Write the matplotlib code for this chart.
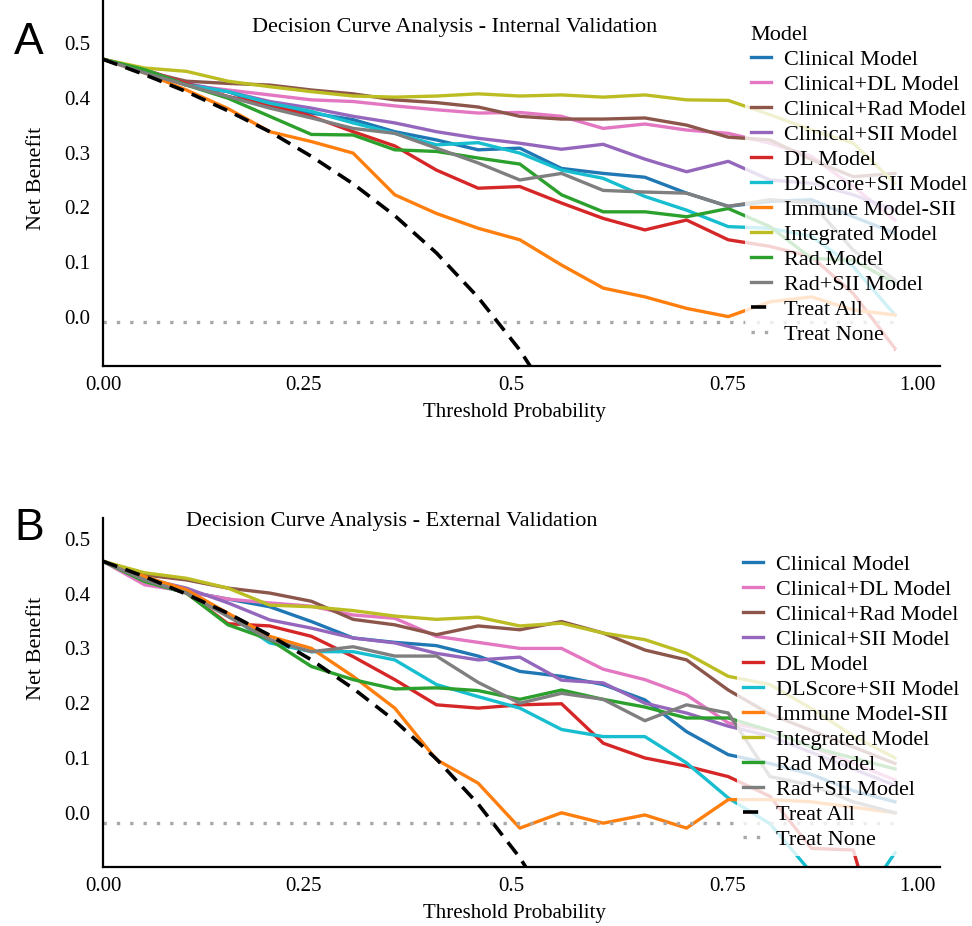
import matplotlib
matplotlib.use('Agg')
import matplotlib.pyplot as plt
from matplotlib.lines import Line2D

plt.rcParams['font.family'] = ['Liberation Serif', 'DejaVu Serif']

# ── Data ─────────────────────────────────────────────────────────────────────
thresholds = [0.00, 0.05, 0.10, 0.15, 0.20, 0.25, 0.30, 0.35, 0.40, 0.45,
              0.50, 0.55, 0.60, 0.65, 0.70, 0.75, 0.80, 0.85, 0.90, 0.95]

models = ['Clinical Model', 'Clinical+DL Model', 'Clinical+Rad Model', 'Clinical+SII Model',
          'DL Model', 'DLScore+SII Model', 'Immune Model-SII', 'Integrated Model',
          'Rad Model', 'Rad+SII Model']
colors = ['#1f77b4', '#e377c2', '#8c564b', '#9467bd', '#d62728',
          '#17becf', '#ff7f0e', '#bcbd22', '#2ca02c', '#7f7f7f']

# internal validation
int_clinical = [0.470, 0.451, 0.423, 0.411, 0.384, 0.372, 0.360, 0.338, 0.323, 0.305,
                0.308, 0.271, 0.262, 0.255, 0.226, 0.202, 0.211, 0.214, 0.183, 0.153]
int_clin_dl = [0.470, 0.448, 0.423, 0.414, 0.405, 0.396, 0.393, 0.385, 0.378, 0.372,
               0.373, 0.366, 0.344, 0.352, 0.341, 0.335, 0.317, 0.293, 0.238, 0.177]
int_clin_rad = [0.470, 0.448, 0.430, 0.426, 0.423, 0.414, 0.407, 0.396, 0.391, 0.383,
                0.366, 0.361, 0.361, 0.363, 0.350, 0.328, 0.323, 0.287, 0.256, 0.262]
int_clin_sii = [0.470, 0.451, 0.426, 0.411, 0.393, 0.381, 0.366, 0.354, 0.338, 0.326,
                0.317, 0.306, 0.315, 0.288, 0.265, 0.284, 0.250, 0.244, 0.223, 0.195]
int_dl = [0.470, 0.451, 0.426, 0.402, 0.387, 0.366, 0.338, 0.312, 0.268, 0.235,
          0.238, 0.208, 0.180, 0.159, 0.177, 0.141, 0.129, 0.110, 0.043, -0.057]
int_dlscore_sii = [0.470, 0.451, 0.423, 0.411, 0.390, 0.375, 0.354, 0.335, 0.314, 0.318,
                   0.299, 0.268, 0.253, 0.220, 0.195, 0.165, 0.162, 0.147, 0.092, 0.004]
int_immune = [0.470, 0.445, 0.414, 0.380, 0.338, 0.320, 0.299, 0.223, 0.189, 0.162,
              0.141, 0.095, 0.053, 0.037, 0.016, 0.001, 0.028, 0.037, 0.013, 0.004]
int_integrated = [0.470, 0.454, 0.448, 0.430, 0.420, 0.411, 0.403, 0.401, 0.403, 0.407,
                  0.403, 0.405, 0.401, 0.405, 0.396, 0.395, 0.369, 0.341, 0.317, 0.244]
int_rad = [0.470, 0.451, 0.423, 0.399, 0.366, 0.333, 0.332, 0.305, 0.302, 0.290,
           0.279, 0.223, 0.192, 0.192, 0.183, 0.198, 0.165, 0.107, 0.104, 0.062]
int_rad_sii = [0.470, 0.445, 0.423, 0.402, 0.381, 0.363, 0.344, 0.335, 0.308, 0.281,
               0.250, 0.262, 0.231, 0.228, 0.226, 0.202, 0.214, 0.208, 0.122, 0.068]
int_treat_all = [0.470, 0.442, 0.411, 0.376, 0.338, 0.293, 0.243, 0.185, 0.117, 0.036, -0.060, -0.178]
int_treat_none = -0.009

# external validation
ext_clinical = [0.459, 0.428, 0.404, 0.390, 0.376, 0.349, 0.319, 0.311, 0.305, 0.286,
                0.258, 0.249, 0.234, 0.206, 0.148, 0.106, 0.090, 0.070, 0.040, 0.020]
ext_clin_dl = [0.459, 0.416, 0.404, 0.390, 0.383, 0.377, 0.361, 0.355, 0.322, 0.311,
               0.300, 0.300, 0.262, 0.243, 0.215, 0.164, 0.150, 0.120, 0.090, 0.060]
ext_clin_rad = [0.459, 0.434, 0.425, 0.410, 0.401, 0.386, 0.353, 0.343, 0.325, 0.341,
                0.334, 0.349, 0.328, 0.297, 0.279, 0.224, 0.180, 0.150, 0.120, 0.090]
ext_clin_sii = [0.459, 0.428, 0.410, 0.383, 0.352, 0.337, 0.319, 0.310, 0.291, 0.279,
                0.284, 0.242, 0.237, 0.200, 0.182, 0.158, 0.140, 0.110, 0.080, 0.050]
ext_dl = [0.459, 0.425, 0.401, 0.345, 0.341, 0.322, 0.285, 0.243, 0.197, 0.191,
          0.197, 0.199, 0.127, 0.100, 0.085, 0.066, 0.030, -0.065, -0.068, -0.330]
ext_dlscore_sii = [0.459, 0.425, 0.404, 0.361, 0.310, 0.294, 0.294, 0.279, 0.234, 0.212,
                   0.191, 0.152, 0.139, 0.139, 0.091, 0.027, -0.020, -0.110, -0.185, -0.073]
ext_immune = [0.459, 0.431, 0.407, 0.364, 0.322, 0.300, 0.249, 0.191, 0.097, 0.054,
              -0.028, 0.000, -0.019, -0.004, -0.028, 0.024, 0.024, 0.020, 0.010, 0.000]
ext_integrated = [0.459, 0.438, 0.428, 0.410, 0.379, 0.376, 0.369, 0.359, 0.353, 0.357,
                  0.341, 0.346, 0.328, 0.316, 0.291, 0.249, 0.234, 0.190, 0.140, 0.100]
ext_rad = [0.459, 0.422, 0.401, 0.343, 0.316, 0.267, 0.243, 0.226, 0.228, 0.223,
           0.207, 0.224, 0.207, 0.193, 0.173, 0.173, 0.150, 0.120, 0.100, 0.080]
ext_rad_sii = [0.459, 0.425, 0.401, 0.358, 0.316, 0.294, 0.303, 0.286, 0.286, 0.238,
               0.200, 0.218, 0.207, 0.168, 0.197, 0.182, 0.066, 0.050, 0.020, 0.000]
ext_treat_all = [0.459, 0.431, 0.399, 0.364, 0.324, 0.279, 0.227, 0.168, 0.098, 0.016, -0.082, -0.202]
ext_treat_none = -0.019

x_tick_pos = [0.0, 0.241, 0.490, 0.749, 0.977]
x_tick_lab = ['0.00', '0.25', '0.5', '0.75', '1.00']
y_ticks = [0.0, 0.1, 0.2, 0.3, 0.4, 0.5]

LW = 2.4
DASH = (0, (4.2, 2.4))
DOT = (0, (1, 3.0))
FS = 16


def draw_panel(ax, curves, treat_all, treat_none, ylim):
    for vals, c in zip(curves, colors):
        ax.plot(thresholds, vals, color=c, lw=LW)
    ax.plot(thresholds[:len(treat_all)], treat_all, color='black', lw=2.6, linestyle=DASH)
    ax.plot([thresholds[0], thresholds[-1]], [treat_none, treat_none],
            color='#a8a8a8', lw=LW, linestyle=DOT)
    ax.set_xlim(0, 1.004)
    ax.set_ylim(*ylim)
    ax.set_xticks(x_tick_pos, x_tick_lab)
    ax.set_yticks(y_ticks, [f'{v:.1f}' for v in y_ticks])
    ax.tick_params(axis='both', length=0, labelsize=15)
    ax.tick_params(axis='y', pad=9)
    ax.tick_params(axis='x', pad=7)
    for s in ('top', 'right'):
        ax.spines[s].set_visible(False)
    for s in ('left', 'bottom'):
        ax.spines[s].set_linewidth(1.6)
        ax.spines[s].set_color('black')
    ax.set_xlabel('Threshold Probability', fontsize=15, va='center')
    ax.set_ylabel('Net Benefit', fontsize=16, va='center')


def legend_handles():
    h = [Line2D([], [], color=c, lw=LW) for c in colors]
    h.append(Line2D([], [], color='black', lw=2.6, linestyle=DASH))
    h.append(Line2D([], [], color='#a8a8a8', lw=LW, linestyle=DOT))
    return h, models + ['Treat All', 'Treat None']


LEG_KW = dict(loc='upper left', fontsize=FS, frameon=True, framealpha=0.8,
              edgecolor='none', fancybox=False, labelspacing=0.2, handlelength=0.9,
              handletextpad=0.6, borderpad=0.25, borderaxespad=0)

fig = plt.figure(figsize=(9.72, 9.26), dpi=100)
W, H = 972, 926

# ── Panel A ──────────────────────────────────────────────────────────────────
axA = fig.add_axes([103 / W, 1 - 366 / H, 837 / W, 366 / H])
draw_panel(axA,
           [int_clinical, int_clin_dl, int_clin_rad, int_clin_sii, int_dl,
            int_dlscore_sii, int_immune, int_integrated, int_rad, int_rad_sii],
           int_treat_all, int_treat_none, (-0.089, 0.578))
axA.text(0.42, 0.926, 'Decision Curve Analysis - Internal Validation', fontsize=FS,
         ha='center', va='center', transform=axA.transAxes)
axA.xaxis.set_label_coords(0.492, -0.128)
axA.yaxis.set_label_coords(-0.08, 0.514)
h, l = legend_handles()
axA.legend(h, l, title='Model', title_fontsize=FS, alignment='left',
           bbox_to_anchor=(745 / W, 1 - 20 / H), bbox_transform=fig.transFigure, **LEG_KW)
fig.text(29 / W, 1 - 43 / H, 'A', fontsize=32, family='Liberation Sans', ha='center', va='center')

# ── Panel B ──────────────────────────────────────────────────────────────────
axB = fig.add_axes([103 / W, 1 - 867 / H, 837 / W, 349 / H])
draw_panel(axB,
           [ext_clinical, ext_clin_dl, ext_clin_rad, ext_clin_sii, ext_dl,
            ext_dlscore_sii, ext_immune, ext_integrated, ext_rad, ext_rad_sii],
           ext_treat_all, ext_treat_none, (-0.099, 0.538))
axB.text(0.345, 0.989, 'Decision Curve Analysis - External Validation', fontsize=FS,
         ha='center', va='center', transform=axB.transAxes)
axB.xaxis.set_label_coords(0.492, -0.132)
axB.yaxis.set_label_coords(-0.08, 0.625)
axB.legend(h, l, bbox_to_anchor=(737 / W, 1 - 549 / H), bbox_transform=fig.transFigure, **LEG_KW)
fig.text(29 / W, 1 - 529 / H, 'B', fontsize=32, family='Liberation Sans', ha='center', va='center')

fig.savefig('out.png', dpi=100, facecolor='white')
